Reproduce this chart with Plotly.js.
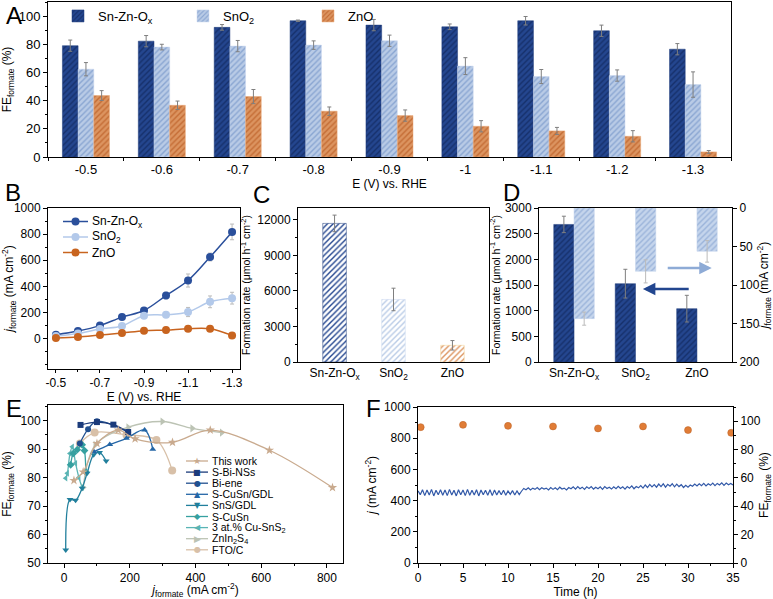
<!DOCTYPE html>
<html><head><meta charset="utf-8">
<script src="https://cdn.plot.ly/plotly-3.0.1.min.js"></script>
<style>body{margin:0;background:#fff}#g{width:773px;height:599px}</style>
</head><body><div id="g"></div>
<script>
// ---------- Panel A ----------
const potA = ["-0.5","-0.6","-0.7","-0.8","-0.9","-1","-1.1","-1.2","-1.3"];
const feSnZn = [79,82.2,92,96.7,93.6,92.4,96.7,89.6,76.5];
const feSnZnErr = [4,4,2,0.5,4,2,3,4,4];
const feSnO2 = [62.3,78,78.7,79.4,82.5,64.5,57.1,57.8,51.4];
const feSnO2Err = [4.7,2,4,3,4,6,5,4,9];
const feZnO = [43.6,36.7,42.9,32.5,29.4,21.8,18.5,14.7,3.6];
const feZnOErr = [3.5,3,5,3,4,4,2.5,4,1];
// ---------- Panel B ----------
const bNames = ["Sn-Zn-O<sub>x</sub>","SnO<sub>2</sub>","ZnO"];
const potB = [-0.5,-0.6,-0.7,-0.8,-0.9,-1.0,-1.1,-1.2,-1.3];
const potBTickVals = [-0.5,-0.7,-0.9,-1.1,-1.3];
const potBTickText = ["-0.5","-0.7","-0.9","-1.1","-1.3"];
const jSnZn = [30,58,100,165,216,330,445,625,817];
const jSnZnErr = [8,8,10,12,12,25,50,30,60];
const jSnO2 = [20,40,74,97,176,183,204,282,310];
const jSnO2Err = [5,5,8,8,15,15,35,45,45];
const jZnO = [5,13,28,43,61,66,76,76,25];
const jZnOErr = [3,3,4,4,5,5,6,6,5];
// ---------- Panel C ----------
const catCD = ["Sn-Zn-O<sub>x</sub>","SnO<sub>2</sub>","ZnO"];
const rateC = [11700,5280,1410];
const rateCErr = [700,950,400];
// ---------- Panel D ----------
const rateD = [2680,1526,1039];
const rateDErr = [160,280,260];
const jD = [143.7,82.3,56.3];
const jDErr = [8.5,15,14];
// ---------- Panel E ----------
const eNames = ["This work","S-Bi-NSs","Bi-ene","S-CuSn/GDL","SnS/GDL","S-CuSn","3 at.% Cu-SnS<sub>2</sub>","ZnIn<sub>2</sub>S<sub>4</sub>","FTO/C"];
const twX = [30,58,100,165,216,330,445,625,817];
const twY = [79,82,92,96.7,93.6,92.4,96.7,89.6,76.5];
const biNSsX = [50,100,150,195];
const biNSsY = [98.5,99.5,98.6,96];
const bieneX = [48,73,100,195];
const bieneY = [92,97,99.8,96];
const cuSnGdlX = [91,139,190,245,270];
const cuSnGdlY = [89.1,91.6,93.8,96.7,90];
const snsGdlX = [5,18,35,55,70,90,108,128];
const snsGdlY = [54.6,72.3,72,76.3,81.5,88,88.8,85.8];
const sCuSnX = [20,28,40,55,62,66];
const sCuSnY = [84.5,88.5,89.8,91.5,89.5,82];
const cuSnS2X = [5,10,18,25,35,45,55];
const cuSnS2Y = [79.8,81.5,88.5,90.8,85,80,76.5];
const znInX = [58,95,195,299,390,480];
const znInY = [76.5,91.5,97.7,99.7,97.3,95.8];
const ftoX = [48,93,190,281,329];
const ftoY = [92,95.8,95,93.2,82.5];
// ---------- Panel F ----------
const fTime = [0,0.25,0.5,0.75,1,1.25,1.5,1.75,2,2.25,2.5,2.75,3,3.25,3.5,3.75,4,4.25,4.5,4.75,5,5.25,5.5,5.75,6,6.25,6.5,6.75,7,7.25,7.5,7.75,8,8.25,8.5,8.75,9,9.25,9.5,9.75,10,10.25,10.5,10.75,11,11.25,11.5,11.75,12,12.25,12.5,12.75,13,13.25,13.5,13.75,14,14.25,14.5,14.75,15,15.25,15.5,15.75,16,16.25,16.5,16.75,17,17.25,17.5,17.75,18,18.25,18.5,18.75,19,19.25,19.5,19.75,20,20.25,20.5,20.75,21,21.25,21.5,21.75,22,22.25,22.5,22.75,23,23.25,23.5,23.75,24,24.25,24.5,24.75,25,25.25,25.5,25.75,26,26.25,26.5,26.75,27,27.25,27.5,27.75,28,28.25,28.5,28.75,29,29.25,29.5,29.75,30,30.25,30.5,30.75,31,31.25,31.5,31.75,32,32.25,32.5,32.75,33,33.25,33.5,33.75,34,34.25,34.5,34.75,35];
const fJ = [462,438,470,432,468,436,472,430,466,438,470,434,468,432,472,436,466,430,470,438,468,432,472,434,466,436,470,430,468,438,466,434,470,432,468,436,464,438,466,434,462,440,464,436,462,438,460,
478,470,482,468,480,472,484,470,482,474,480,468,484,472,482,470,486,474,480,468,484,476,
488,474,490,476,486,472,488,478,490,474,486,476,488,472,490,478,486,474,488,476,492,478,488,474,490,480,494,476,490,482,496,480,
500,484,504,488,502,486,506,490,508,486,504,492,508,488,506,490,502,484,498,486,
500,492,506,494,508,496,510,494,508,498,512,496,510,500,514,498,512,502,510,500];
const feTime = [0.3,5,10,15,20,25,30,34.8];
const feF = [95.8,97.4,96.7,96.3,94.9,96.3,93.7,91.8];

const FONT = 'Liberation Sans, Arial, sans-serif';
const DARK = '#24468f', LIGHT = '#b9cbe6', ORANGE = '#dc9460';
function pat(bg, fg){ return {shape:'/', bgcolor:bg, fgcolor:fg, size:4, solidity:0.35}; }
const errStyle = (arr)=>({type:'data', array:arr, visible:true, color:'#7f7f7f', thickness:1, width:2});

const traces = [];
// A
traces.push({type:'bar', x:potA, y:feSnZn, name:'Sn-Zn-O<sub>x</sub>', xaxis:'x', yaxis:'y',
  marker:{color:DARK, pattern:pat(DARK,'#16306b'), line:{color:'#1c3a7a',width:0.5}}, error_y:errStyle(feSnZnErr)});
traces.push({type:'bar', x:potA, y:feSnO2, name:'SnO<sub>2</sub>', xaxis:'x', yaxis:'y',
  marker:{color:LIGHT, pattern:pat(LIGHT,'#8aa6d2'), line:{color:'#c9d7ee',width:0.5}}, error_y:errStyle(feSnO2Err)});
traces.push({type:'bar', x:potA, y:feZnO, name:'ZnO', xaxis:'x', yaxis:'y',
  marker:{color:ORANGE, pattern:pat(ORANGE,'#c46c35'), line:{color:'#e8a878',width:0.5}}, error_y:errStyle(feZnOErr)});
// B
const bCols = ['#2a4f9b','#b3c9ea','#c8641f'];
const bYs = [jSnZn,jSnO2,jZnO], bErrs = [jSnZnErr,jSnO2Err,jZnOErr];
for (let i=0;i<3;i++){
  traces.push({type:'scatter', mode:'lines+markers', x:potB, y:bYs[i], name:bNames[i], xaxis:'x2', yaxis:'y2', showlegend:false,
    line:{color:bCols[i],width:1.5,shape:'spline'}, marker:{color:bCols[i],size:8},
    error_y:{type:'data',array:bErrs[i],visible:true,color:'#bbbbbb',thickness:1,width:2}});
}
// C
traces.push({type:'bar', x:catCD, y:rateC, xaxis:'x3', yaxis:'y3', width:0.4, showlegend:false,
  marker:{color:[DARK,LIGHT,ORANGE], pattern:{shape:'/', bgcolor:[DARK,LIGHT,ORANGE], fgcolor:['#16306b','#8aa6d2','#c46c35'], size:4, solidity:0.35}, line:{color:['#1c3a7a','#c9d7ee','#f0d090'],width:0.5}},
  error_y:errStyle(rateCErr)});
// D
traces.push({type:'bar', x:catCD, y:rateD, xaxis:'x4', yaxis:'y4', width:0.33, offset:-0.33, showlegend:false,
  marker:{color:DARK, pattern:pat(DARK,'#16306b'), line:{color:'#1c3a7a',width:0.5}}, error_y:errStyle(rateDErr)});
traces.push({type:'bar', x:catCD, y:jD, xaxis:'x4', yaxis:'y5', width:0.33, offset:0, showlegend:false,
  marker:{color:'#c5d5ec', pattern:pat('#c5d5ec','#9bb4da'), line:{color:'#c5d5ec',width:0.5}}, error_y:{type:'data',array:jDErr,visible:true,color:'#bbbbbb',thickness:1,width:2}});
// E
const eCols = ['#c9aa8e','#1b3b7b','#22508f','#2466a6','#217f9c','#36a0a0','#5ab4b4','#bcc3b4','#d8c0a8'];
const eSyms = ['star','square','circle','triangle-up','triangle-down','diamond','triangle-left','triangle-right','circle'];
const eSizes = [7,6,6,6,6,6,6,7,8];
const eXs = [twX,biNSsX,bieneX,cuSnGdlX,snsGdlX,sCuSnX,cuSnS2X,znInX,ftoX];
const eYs = [twY,biNSsY,bieneY,cuSnGdlY,snsGdlY,sCuSnY,cuSnS2Y,znInY,ftoY];
for (let i=eNames.length-1;i>=0;i--){
  traces.push({type:'scatter', mode:'lines+markers', x:eXs[i], y:eYs[i], name:eNames[i], xaxis:'x5', yaxis:'y6', showlegend:false,
    line:{color:eCols[i],width:1.3,shape:'spline'}, marker:{color:eCols[i],size:eSizes[i],symbol:eSyms[i]}});
}
// F
traces.push({type:'scatter', mode:'lines', x:fTime, y:fJ, xaxis:'x6', yaxis:'y7', showlegend:false,
  line:{color:'#3259a8',width:1.2}});
traces.push({type:'scatter', mode:'markers', x:feTime, y:feF, xaxis:'x6', yaxis:'y8', showlegend:false,
  marker:{color:'#e07c36',size:7,line:{color:'#b95e22',width:0.5}}});

const ax = (o)=>Object.assign({showline:true, linecolor:'#000', linewidth:1, mirror:true, ticks:'outside', ticklen:4, tickwidth:1,
  tickcolor:'#000', showgrid:false, zeroline:false, tickfont:{size:12, family:FONT, color:'#000'}}, o);
const W=773, H=599;
const dx = (a,b)=>[a/W, b/W];
const dy = (t,b)=>[1-b/H, 1-t/H];
const ttl = (t, s, sz)=>({text:t, font:{size:sz||12, family:FONT, color:'#000'}, standoff:s});

const shapes = [];
const annotations = [
  {text:'A', x:4/W, y:1, xref:'paper', yref:'paper', xanchor:'left', yanchor:'top', showarrow:false, font:{size:24, family:FONT}},
  {text:'B', x:3/W, y:1-192/H, xref:'paper', yref:'paper', xanchor:'left', yanchor:'middle', showarrow:false, font:{size:24, family:FONT}},
  {text:'C', x:251/W, y:1-194/H, xref:'paper', yref:'paper', xanchor:'left', yanchor:'middle', showarrow:false, font:{size:24, family:FONT}},
  {text:'D', x:501/W, y:1-192/H, xref:'paper', yref:'paper', xanchor:'left', yanchor:'middle', showarrow:false, font:{size:24, family:FONT}},
  {text:'E', x:4/W, y:1-408/H, xref:'paper', yref:'paper', xanchor:'left', yanchor:'middle', showarrow:false, font:{size:24, family:FONT}},
  {text:'F', x:364/W, y:1-408/H, xref:'paper', yref:'paper', xanchor:'left', yanchor:'middle', showarrow:false, font:{size:24, family:FONT}},
  {text:'', x:1.12, y:1422, ax:1.89, ay:1422, xref:'x4', yref:'y4', axref:'x4', ayref:'y4', showarrow:true, arrowhead:2, arrowsize:1, arrowwidth:2.5, arrowcolor:'#22468f'},
  {text:'', x:2.24, y:1831, ax:1.50, ay:1831, xref:'x4', yref:'y4', axref:'x4', ayref:'y4', showarrow:true, arrowhead:2, arrowsize:1, arrowwidth:2.5, arrowcolor:'#8eabd6'}
];
// custom legend for panel B
for (let i=0;i<3;i++){
  const yy = 1-(221.5+15.5*i)/H;
  shapes.push({type:'line', xref:'paper', yref:'paper', x0:63/W, x1:88/W, y0:yy, y1:yy, line:{color:bCols[i], width:1.5}});
  shapes.push({type:'circle', xref:'paper', yref:'paper', xsizemode:'pixel', ysizemode:'pixel', xanchor:75.5/W, yanchor:yy,
    x0:-4, x1:4, y0:-4, y1:4, fillcolor:bCols[i], line:{color:bCols[i], width:0}});
  annotations.push({text:bNames[i], x:90/W, y:yy, xref:'paper', yref:'paper', xanchor:'left', yanchor:'middle', showarrow:false,
    font:{size:12, family:FONT, color:'#000'}});
}
// custom legend for panel E
const eLegSyms = ['★','■','●','▲','▼','◆','◀','▶','●'];
for (let i=0;i<eNames.length;i++){
  const yy = 1-(461+11.1*i)/H;
  shapes.push({type:'line', xref:'paper', yref:'paper', x0:186/W, x1:208/W, y0:yy, y1:yy, line:{color:eCols[i], width:1.3}});
  annotations.push({text:eLegSyms[i], x:197/W, y:yy, xref:'paper', yref:'paper', xanchor:'center', yanchor:'middle', showarrow:false,
    font:{size:(i===0||i===7)?9:8, family:'DejaVu Sans', color:eCols[i]}});
  annotations.push({text:eNames[i], x:210/W, y:yy, xref:'paper', yref:'paper', xanchor:'left', yanchor:'middle', showarrow:false,
    font:{size:10.5, family:FONT, color:'#000'}});
}

const layout = {
  width:W, height:H, margin:{l:0,r:0,t:0,b:0}, paper_bgcolor:'#fff', plot_bgcolor:'#fff',
  font:{family:FONT, size:12, color:'#000'}, barmode:'group', bargap:0.38, bargroupgap:0,
  xaxis: ax({domain:dx(48,731), anchor:'y', type:'category', range:[-0.5,8.5], title:ttl('E (V) vs. RHE',0), ticks:'outside', tickson:'boundaries', ticklen:3, tickfont:{size:13, family:FONT}}),
  yaxis: ax({domain:dy(2,157), anchor:'x', range:[0,110], tickvals:[0,20,40,60,80,100], minor:{ticks:'outside', dtick:10, ticklen:2}, title:ttl('FE<sub>formate</sub> (%)',6), tickfont:{size:13, family:FONT}}),
  xaxis2: ax({domain:dx(48,240), anchor:'y2', range:[-0.464,-1.336], tickvals:potBTickVals, ticktext:potBTickText, ticklen:3, minor:{ticks:'outside', dtick:0.1, ticklen:2}, title:ttl('E (V) vs. RHE',1)}),
  yaxis2: ax({domain:dy(208,369), anchor:'x2', range:[-232,1000], tickvals:[0,200,400,600,800,1000], minor:{ticks:'outside', dtick:100, ticklen:2}, title:ttl('<i>j</i><sub>formate</sub> (mA cm<sup>-2</sup>)',4)}),
  xaxis3: ax({domain:dx(298,489), anchor:'y3', type:'category', range:[-0.62,2.62], ticks:''}),
  yaxis3: ax({domain:dy(208,362), anchor:'x3', range:[0,13000], tickvals:[0,3000,6000,9000,12000], tickformat:'d', minor:{ticks:'outside', dtick:1500, ticklen:2}, title:ttl('Formation rate (μmol h<sup>-1</sup> cm<sup>-2</sup>)',4,10.5)}),
  xaxis4: ax({domain:dx(539,732), anchor:'y4', type:'category', range:[-0.57,2.57], ticks:''}),
  yaxis4: ax({domain:dy(208,362), anchor:'x4', range:[0,3000], dtick:500, tickformat:'d', mirror:false, title:ttl('Formation rate (μmol h<sup>-1</sup> cm<sup>-2</sup>)',2,10.5)}),
  yaxis5: ax({domain:dy(208,362), anchor:'x4', overlaying:'y4', side:'right', range:[200,0], dtick:50, mirror:false, title:ttl('<i>j</i><sub>formate</sub> (mA cm<sup>-2</sup>)',6)}),
  xaxis5: ax({domain:dx(48,343), anchor:'y6', range:[-49,849], tickvals:[0,200,400,600,800], minor:{ticks:'outside', dtick:100, ticklen:2}, title:ttl('<i>j</i><sub>formate</sub> (mA cm<sup>-2</sup>)',4)}),
  yaxis6: ax({domain:dy(405,563), anchor:'x5', range:[50,105.5], tickvals:[50,60,70,80,90,100], minor:{ticks:'outside', dtick:5, ticklen:2}, title:ttl('FE<sub>formate</sub> (%)',6)}),
  xaxis6: ax({domain:dx(418,733), anchor:'y7', range:[0,35], dtick:5, minor:{ticks:'outside', dtick:2.5, ticklen:2}, title:ttl('Time (h)',4)}),
  yaxis7: ax({domain:dy(407,563), anchor:'x6', range:[0,1000], dtick:200, mirror:false, minor:{ticks:'outside', dtick:100, ticklen:2}, title:ttl('<i>j</i> (mA cm<sup>-2</sup>)',4)}),
  yaxis8: ax({domain:dy(407,563), anchor:'x6', overlaying:'y7', side:'right', range:[0,110], tickvals:[0,20,40,60,80,100], mirror:false, minor:{ticks:'outside', dtick:10, ticklen:2}, title:ttl('FE<sub>formate</sub> (%)',4)}),
  showlegend:true,
  legend: {orientation:'h', x:58/W, y:1-1/H, xanchor:'left', yanchor:'top', bgcolor:'rgba(0,0,0,0)', font:{size:13}, itemwidth:30, entrywidth:80, tracegroupgap:0},
  shapes: shapes,
  annotations: annotations
};
Plotly.newPlot('g', traces, layout, {displayModeBar:false, staticPlot:true});
</script></body></html>
